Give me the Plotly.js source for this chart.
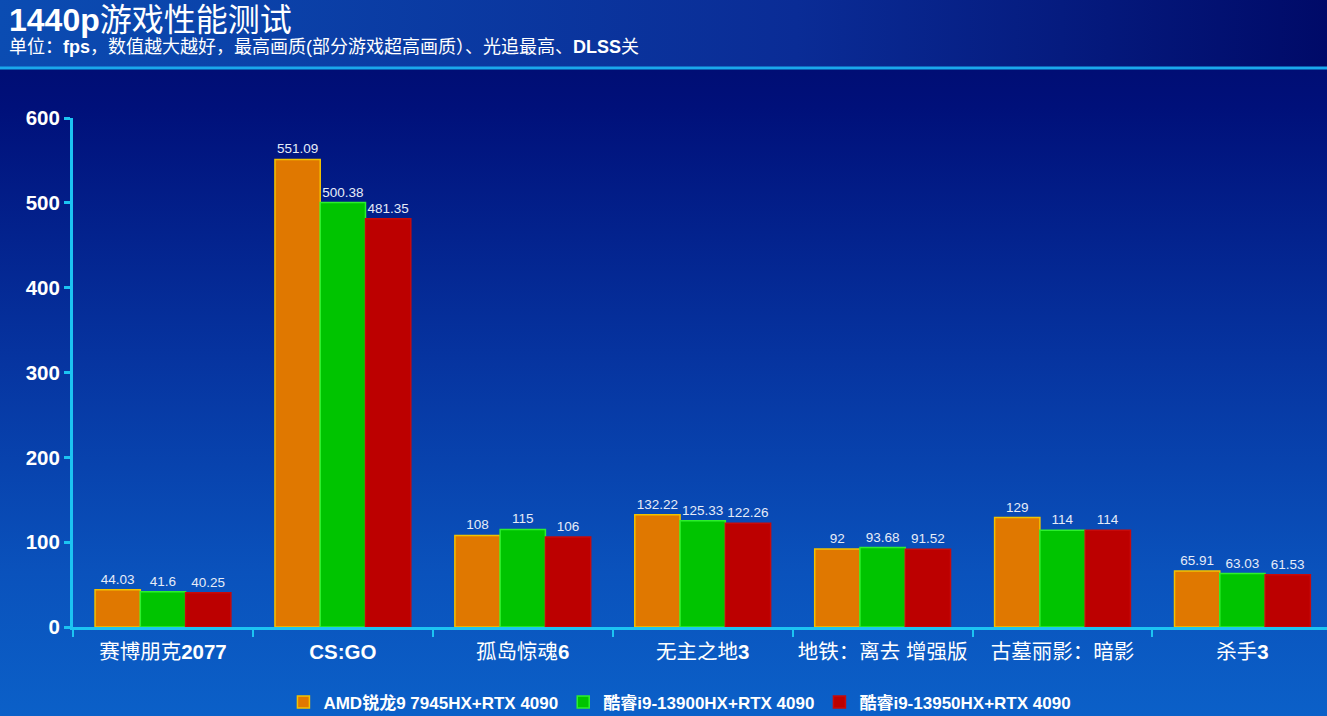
<!DOCTYPE html>
<html>
<head>
<meta charset="utf-8">
<script src="https://cdn.plot.ly/plotly-3.0.1.min.js"></script>
<style>
  html, body { margin: 0; padding: 0; }
  #chart {
    width: 1327px; height: 716px;
    background:
      linear-gradient(to right, #0b4cb2, #0a2c96 60%, #000a68) top left / 100% 67px no-repeat,
      linear-gradient(to bottom, #000a6a 0%, #00107a 15%, #0634a0 50%, #0a52bc 80%, #0b60c8 100%);
  }
</style>
</head>
<body>
<div id="chart"></div>
<script>
// games tested at 1440p
const games = ['赛博朋克2077', 'CS:GO', '孤岛惊魂6', '无主之地3', '地铁：离去 增强版', '古墓丽影：暗影', '杀手3'];
const gameLabels = ['赛博朋克<b>2077</b>', '<b>CS:GO</b>', '孤岛惊魂<b>6</b>', '无主之地<b>3</b>', '地铁：离去 增强版', '古墓丽影：暗影', '杀手<b>3</b>'];

const amd7945 = [44.03, 551.09, 108, 132.22, 92, 129, 65.91];
const i13900 = [41.6, 500.38, 115, 125.33, 93.68, 114, 63.03];
const i13950 = [40.25, 481.35, 106, 122.26, 91.52, 114, 61.53];

const seriesNames = ['AMD锐龙9 7945HX+RTX 4090', '酷睿i9-13900HX+RTX 4090', '酷睿i9-13950HX+RTX 4090'];
const yTicks = [0, 100, 200, 300, 400, 500, 600];

const FONT = 'Liberation Sans, Arial, Noto Sans CJK SC, sans-serif';
const CYAN = '#1cc4f2';

function barTrace(name, values, fill, edge){
    return {
        type: 'bar',
        name: name,
        x: games,
        y: values,
        text: values.map(v => String(v)),
        textposition: 'outside',
        cliponaxis: false,
        textfont: {family: FONT, size: 13.5, color: '#e6ecf8'},
        marker: {color: fill, line: {color: edge, width: 1.5}},
        hoverinfo: 'x+y+name'
    };
}

const data = [
    barTrace(seriesNames[0], amd7945, '#e07800', '#f2c200'),
    barTrace(seriesNames[1], i13900, '#00c400', '#2cf02c'),
    barTrace(seriesNames[2], i13950, '#bc0000', '#c80a0a')
];

const layout = {
    width: 1327,
    height: 716,
    margin: {l: 73, r: 0, t: 118, b: 89, autoexpand: false},
    paper_bgcolor: 'rgba(0,0,0,0)',
    plot_bgcolor: 'rgba(0,0,0,0)',
    font: {family: FONT, color: '#ffffff'},
    barmode: 'group',
    bargap: 0.245,
    bargroupgap: 0,
    showlegend: true,
    legend: {
        orientation: 'h',
        x: 0.484, xanchor: 'center',
        y: -0.148, yanchor: 'middle',
        font: {family: FONT, size: 17, color: '#ffffff', weight: 'bold'},
        itemwidth: 30,
        bgcolor: 'rgba(0,0,0,0)'
    },
    xaxis: {
        type: 'category',
        automargin: false,
        range: [-0.5, 6.47],
        tickmode: 'array',
        tickvals: games,
        ticktext: gameLabels,
        tickson: 'boundaries',
        ticks: 'outside',
        ticklen: 7,
        tickwidth: 2,
        tickcolor: CYAN,
        ticklabelstandoff: 4,
        showline: true,
        linecolor: CYAN,
        linewidth: 3,
        showgrid: false,
        zeroline: false,
        tickfont: {family: FONT, size: 20.5, color: '#ffffff'}
    },
    yaxis: {
        automargin: false,
        range: [0, 600],
        tickmode: 'array',
        tickvals: yTicks,
        ticktext: yTicks.map(v => '<b>' + v + '</b>'),
        ticks: 'outside',
        ticklen: 6,
        tickwidth: 3,
        tickcolor: CYAN,
        showline: true,
        linecolor: CYAN,
        linewidth: 3,
        showgrid: false,
        zeroline: false,
        tickfont: {family: FONT, size: 20.5, color: '#ffffff'}
    },
    shapes: [{
        type: 'line', xref: 'paper', yref: 'paper',
        x0: -73 / 1254, x1: 1, y0: (627 - 68) / 509, y1: (627 - 68) / 509,
        line: {color: '#1aa8ec', width: 3}
    }],
    annotations: [{
        xref: 'paper', yref: 'paper',
        x: -66 / 1254, y: (627 - 20) / 509,
        xanchor: 'left', yanchor: 'middle',
        showarrow: false,
        text: '<b>1440p</b>游戏性能测试',
        font: {family: FONT, size: 32, color: '#ffffff'}
    }, {
        xref: 'paper', yref: 'paper',
        x: -66 / 1254, y: (627 - 47) / 509,
        xanchor: 'left', yanchor: 'middle',
        showarrow: false,
        text: '单位：<b>fps</b>，数值越大越好，最高画质(部分游戏超高画质）、光追最高、<b>DLSS</b>关',
        font: {family: FONT, size: 18, color: '#ffffff'}
    }]
};

Plotly.newPlot('chart', data, layout, {displayModeBar: false});
</script>
</body>
</html>
